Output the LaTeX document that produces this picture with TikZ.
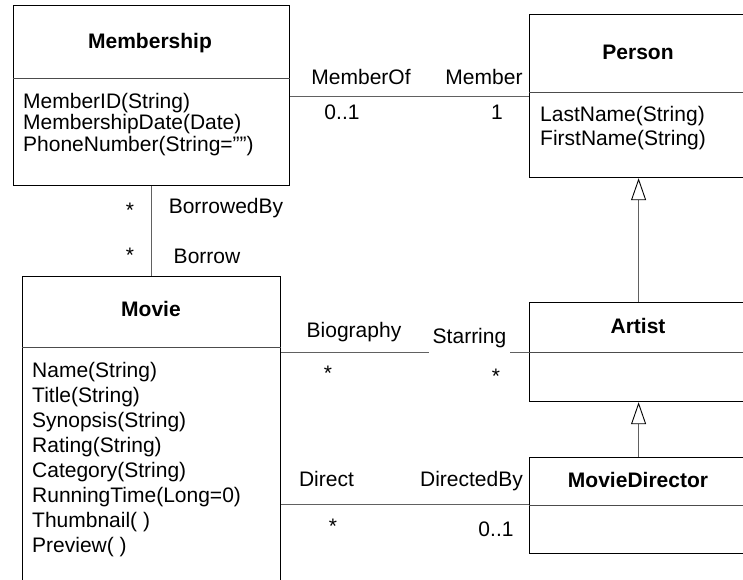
\documentclass[tikz,border=0pt]{standalone}
\usepackage{fontspec}
\setmainfont{Liberation Sans}
\usetikzlibrary{arrows.meta}
\definecolor{linegray}{gray}{0.38}
\definecolor{divgray}{gray}{0.3}
\begin{document}
\begin{tikzpicture}[x=1pt,y=-1pt,
  every node/.style={font=\fontsize{21}{25}\selectfont, inner sep=0pt},
  classbox/.style={draw=black, line width=1.2pt, anchor=north west, inner sep=0pt},
  classname/.style={anchor=base, font=\fontsize{21}{25}\selectfont\bfseries},
  attr/.style={anchor=base west},
  lbl/.style={anchor=base},
  divider/.style={draw=divgray, line width=1pt},
  assoc/.style={draw=linegray, line width=1pt},
  gen/.style={draw=linegray, line width=1pt,
    -{Triangle[open, length=22pt, width=15pt, color=black, line width=0.9pt]}}]
\useasboundingbox (0,0) rectangle (743,579);
\clip (0,0) rectangle (743,579);

% class boxes
\node[classbox, minimum width=276pt, minimum height=180pt] (membership) at (13,5) {};
\node[classbox, minimum width=218pt, minimum height=163pt] (person) at (529,14) {};
\node[classbox, minimum width=258pt, minimum height=400pt] (movie) at (22,276) {};
\node[classbox, minimum width=218pt, minimum height=99pt] (artist) at (529,302) {};
\node[classbox, minimum width=218pt, minimum height=96pt] (director) at (529,457) {};

% compartment dividers
\draw[divider] (membership.west |- 0,78) -- (membership.east |- 0,78);
\draw[divider] (person.west |- 0,92) -- (person.east |- 0,92);
\draw[divider] (movie.west |- 0,347) -- (movie.east |- 0,347);
\draw[divider] (artist.west |- 0,352) -- (artist.east |- 0,352);
\draw[divider] (director.west |- 0,505) -- (director.east |- 0,505);

% class names
\node[classname] (membershipname) at (150,48.5) {Membership};
\node[classname] (personname) at (638,59.3) {Person};
\node[classname] (moviename) at (151,316.7) {Movie};
\node[classname] (artistname) at (638,333.3) {Artist};
\node[classname] (directorname) at (638,487.3) {MovieDirector};

% attributes
\node[attr] (ma1) at (23,108) {MemberID(String)};
\node[attr] (ma2) at (23,129.5) {MembershipDate(Date)};
\node[attr] (ma3) at (23,151) {PhoneNumber(String=\char34\char34)};

\node[attr] (pa1) at (540,121.5) {LastName(String)};
\node[attr] (pa2) at (540,145.5) {FirstName(String)};

\node[attr] (va1) at (32,377.5) {Name(String)};
\node[attr] (va2) at (32,402.5) {Title(String)};
\node[attr] (va3) at (32,427.5) {Synopsis(String)};
\node[attr] (va4) at (32,452.5) {Rating(String)};
\node[attr] (va5) at (32,477.5) {Category(String)};
\node[attr] (va6) at (32,502.5) {RunningTime(Long=0)};
\node[attr] (va7) at (32,527.5) {Thumbnail( )};
\node[attr] (va8) at (32,552.5) {Preview( )};

% generalizations
\draw[gen] (artist.north) -- (person.south);
\draw[gen] (director.north) -- (artist.south);

% associations
\draw[assoc] (membership.east |- 0,96) -- (person.west |- 0,96);
\draw[assoc] (membership.south -| 151,0) -- (movie.north -| 151,0);
\draw[assoc] (movie.east |- 0,352) -- (artist.west |- 0,352);
\draw[assoc] (movie.east |- 0,504) -- (director.west |- 0,504);

% association labels
\node[lbl] (memberof) at (361,84.3) {MemberOf};
\node[lbl] (member) at (484,84.3) {Member};
\node[lbl] (memberofm) at (342,119) {0..1};
\node[lbl] (memberm) at (497,119) {1};

\node[lbl] (borrowedbym) at (130,217) {*};
\node[lbl] (borrowedby) at (226,213.3) {BorrowedBy};
\node[lbl] (borrowm) at (130,262) {*};
\node[lbl] (borrow) at (207,263.3) {Borrow};

\node[lbl] (biography) at (354,337.5) {Biography};
\node[lbl, fill=white, inner xsep=4pt, inner ysep=5.5pt] (starring) at (469.5,343.5) {Starring};
\node[lbl] (biographym) at (328,380) {*};
\node[lbl] (starringm) at (496,383) {*};

\node[lbl] (direct) at (326.5,486.7) {Direct};
\node[lbl] (directedby) at (471.5,486.7) {DirectedBy};
\node[lbl] (directm) at (333,533.7) {*};
\node[lbl] (directedbym) at (496,536) {0..1};
\end{tikzpicture}
\end{document}
